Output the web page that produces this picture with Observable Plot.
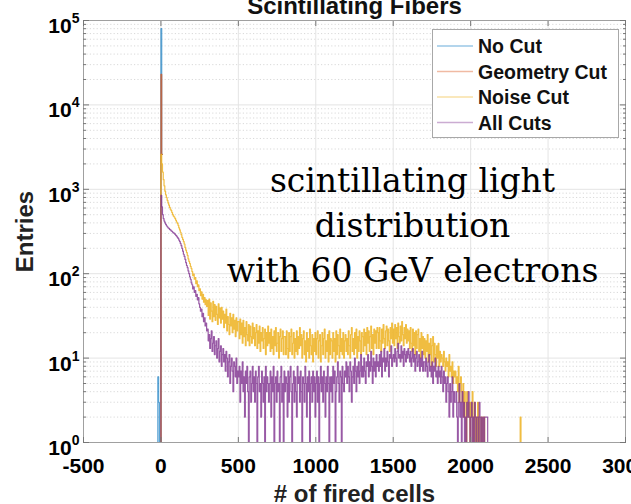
<!DOCTYPE html>
<html><head><meta charset="utf-8">
<script src="https://cdn.jsdelivr.net/npm/d3@7"></script>
<script src="https://cdn.jsdelivr.net/npm/@observablehq/plot@0.6"></script>
<style>body{margin:0;overflow:hidden;background:#fff}</style>
</head><body><div id="chart"></div>
<script>
// ---- data: histogram bins 5 cells wide, value = entries per bin ----
const binWidth = 5;
const noCutStart = -25;
const noCut = [0, 6, 3, 0, 0, 80000, 2600];
const geometryStart = -5;
const geometryCut = [0, 23000, 2600];
const noiseStart = -5;
const noiseCut = [0,
  2600, 2000, 1600, 1300, 1100, 950, 860, 800, 740, 690,
  650, 610, 580, 560, 530, 500, 480, 470, 450, 430,
  410, 395, 375, 350, 330, 310, 290, 270, 255, 240,
  225, 205, 190, 178, 165, 150, 140, 132, 122, 115,
  106, 95, 99, 86, 90, 76, 82, 70, 74, 63,
  66, 55, 61, 50, 57, 46, 52, 43, 49, 41,
  48, 32, 50, 29, 45, 36, 27, 47, 31, 43, 28, 41, 33, 25, 44, 30, 39, 26, 40, 29,
  36, 23, 33, 26, 38, 21, 31, 25, 19, 34, 24, 30, 20, 33, 22, 28, 18, 30, 21, 27,
  27, 17, 29, 19, 26, 15, 28, 18, 23, 14, 27, 19, 16, 25, 14, 24, 18, 15, 26, 17,
  23, 14, 20, 25, 13, 21, 15, 24, 12, 20, 16, 23, 13, 17, 22, 11, 20, 14, 24, 15,
  20, 12, 22, 13, 18, 11, 21, 14, 23, 12, 15, 20, 10, 18, 22, 12, 17, 21, 11, 18,
  18, 11, 21, 13, 10, 20, 12, 18, 22, 11, 15, 20, 10, 17, 12, 21, 11, 18, 13, 23,
  14, 19, 10, 17, 21, 11, 16, 9, 20, 12, 17, 10, 22, 14, 11, 19, 9, 17, 12, 20,
  11, 17, 21, 10, 16, 19, 9, 14, 20, 11, 17, 22, 10, 16, 12, 19, 9, 21, 11, 17,
  16, 10, 20, 12, 17, 9, 21, 11, 19, 14, 10, 22, 12, 17, 11, 20, 10, 16, 19, 12,
  17, 11, 21, 14, 10, 19, 23, 12, 17, 11, 20, 13, 22, 10, 18, 12, 21, 16, 11, 20,
  18, 12, 22, 14, 20, 11, 23, 15, 21, 12, 18, 24, 13, 19, 11, 22, 15, 21, 13, 23,
  20, 13, 23, 16, 12, 22, 15, 25, 17, 13, 21, 24, 14, 22, 16, 12, 23, 17, 26, 15,
  22, 14, 25, 17, 23, 13, 26, 18, 15, 24, 16, 27, 19, 14, 23, 17, 25, 15, 22, 16,
  21, 13, 23, 15, 12, 22, 14, 20, 11, 21, 13, 19, 22, 12, 17, 10, 20, 13, 18, 11,
  17, 10, 16, 12, 19, 9, 15, 11, 17, 8, 14, 18, 9, 15, 11, 8, 14, 10, 15, 8,
  12, 9, 11, 10, 8, 12, 9, 7, 10, 8, 9, 6, 11, 7, 8, 6, 9, 5, 7, 6,
  7, 5, 6, 4, 8, 3, 5, 6, 4, 3, 5, 2, 4, 3, 0, 4, 3, 2, 3, 0,
  3, 2, 4, 0, 2, 3, 0, 2, 1, 3, 0, 2, 0, 1, 2, 0, 0, 2, 0, 0];
const noiseOutlierStart = 2315;
const noiseOutlier = [0, 2, 0];
const allStart = -5;
const allCuts = [0,
  850, 620, 500, 450, 420, 400, 385, 370, 360, 350,
  345, 335, 330, 322, 318, 310, 305, 300, 292, 285,
  278, 270, 262, 250, 240, 228, 215, 200, 185, 170,
  160, 148, 135, 125, 118, 108, 100, 92, 86, 78,
  74, 66, 70, 60, 63, 54, 57, 49, 52, 44,
  40, 36, 38, 31, 34, 27, 30, 24, 26, 21,
  22, 16, 19, 13, 17, 21, 12, 15, 18, 11, 14, 16, 10, 13, 17, 9, 12, 14, 8, 11,
  13, 9, 11, 7, 12, 10, 6, 9, 11, 5, 8, 10, 7, 4, 9, 8, 6, 10, 5, 7,
  6, 8, 3, 7, 5, 9, 4, 6, 2, 7, 5, 8, 4, 0, 6, 7, 3, 5, 8, 4,
  6, 3, 7, 5, 0, 6, 8, 4, 5, 2, 7, 5, 3, 6, 0, 8, 4, 6, 5, 3,
  5, 7, 2, 6, 4, 8, 0, 5, 6, 3, 7, 4, 5, 1, 6, 8, 3, 5, 0, 7,
  4, 6, 5, 2, 7, 3, 6, 8, 4, 0, 5, 7, 3, 6, 4, 2, 8, 5, 6, 3,
  7, 4, 0, 6, 5, 3, 8, 5, 2, 6, 4, 7, 0, 5, 6, 3, 7, 4, 6, 2,
  5, 7, 3, 6, 0, 5, 8, 4, 6, 3, 7, 5, 2, 6, 4, 8, 5, 0, 6, 4,
  6, 3, 8, 5, 7, 0, 4, 6, 9, 5, 3, 7, 6, 0, 8, 5, 4, 7, 6, 9,
  5, 8, 6, 4, 9, 7, 3, 6, 8, 5, 10, 7, 4, 8, 6, 9, 5, 7, 11, 6,
  8, 6, 10, 7, 5, 9, 8, 11, 6, 9, 7, 12, 8, 5, 10, 7, 9, 6, 11, 8,
  9, 7, 11, 8, 12, 6, 10, 9, 13, 7, 10, 8, 12, 9, 6, 11, 10, 14, 8, 10,
  11, 9, 13, 10, 8, 12, 15, 10, 11, 9, 14, 10, 12, 8, 13, 11, 9, 12, 10, 13,
  11, 9, 12, 8, 10, 13, 9, 11, 7, 10, 12, 8, 9, 11, 7, 10, 8, 12, 7, 9,
  9, 7, 10, 8, 6, 9, 11, 7, 8, 6, 9, 5, 8, 7, 10, 6, 7, 5, 8, 6,
  7, 5, 8, 6, 4, 7, 5, 6, 3, 5, 6, 4, 2, 5, 3, 4, 6, 2, 4, 3,
  3, 4, 2, 0, 3, 5, 2, 3, 0, 4, 2, 3, 1, 2, 0, 3, 2, 4, 2, 0,
  2, 3, 0, 2, 1, 3, 2, 0, 2, 2, 0, 3, 2, 0, 2, 1, 2, 0, 2, 2,
  2, 2, 0];
const seriesNames = ["No Cut", "Geometry Cut", "Noise Cut", "All Cuts"];
const seriesColors = ["#0072BD", "#D95319", "#EDB120", "#7E2F8E"];
const xTicks = [-500, 0, 500, 1000, 1500, 2000, 2500, 3000];
const yDecades = [1, 10, 100, 1000, 10000, 100000];
const yMinor = [2,3,4,5,6,7,8,9,20,30,40,50,60,70,80,90,200,300,400,500,600,700,800,900,
  2000,3000,4000,5000,6000,7000,8000,9000,20000,30000,40000,50000,60000,70000,80000,90000];
const titleText = "Scintillating Fibers";
const xLabel = "# of fired cells";
const yLabel = "Entries";
const annotationLines = ["scintillating light", "distribution", "with 60 GeV electrons"];

function steps(start, values, name) {
  const pts = values.map((v, i) => ({x: start + i * binWidth, v, name}));
  pts.push({x: start + values.length * binWidth, v: values[values.length - 1], name});
  return pts;
}
const series = [
  [steps(noCutStart, noCut, seriesNames[0])],
  [steps(geometryStart, geometryCut, seriesNames[1])],
  [steps(noiseStart, noiseCut, seriesNames[2]), steps(noiseOutlierStart, noiseOutlier, seriesNames[2])],
  [steps(allStart, allCuts, seriesNames[3])]
];
const opac = [0.65, 0.75, 0.85, 0.8];
const bold = {fontFamily: "Liberation Sans, Arial, sans-serif", fontWeight: "bold"};

const chart = Plot.plot({
  width: 631, height: 504,
  marginLeft: 83, marginRight: 6, marginTop: 20, marginBottom: 62,
  style: {fontFamily: "Liberation Sans, Arial, sans-serif", background: "#fff", overflow: "visible"},
  x: {domain: [-500, 3000]},
  y: {type: "log", domain: [1, 100000]},
  marks: [
    Plot.ruleY(yMinor, {stroke: "#cfcfcf", strokeDasharray: "1.2,2.2", strokeWidth: 0.8}),
    Plot.ruleX(xTicks, {stroke: "#e4e4e4"}),
    Plot.ruleY(yDecades, {stroke: "#e4e4e4"}),
    ...series.flatMap((segs, i) => segs.map(s => Plot.line(s, {
      x: "x", y: d => d.v > 0 ? d.v : 0.3, curve: "step-after",
      stroke: seriesColors[i], strokeOpacity: opac[i], strokeWidth: 1.2, clip: true
    }))),
    Plot.frame({stroke: "#a0a0a0"}),
    Plot.axisX({ticks: xTicks, anchor: "bottom", tickSize: 0, tickPadding: 16, fontSize: 21, ...bold, tickFormat: d => String(d), label: null}),
    Plot.axisX({ticks: xTicks, anchor: "bottom", tickSize: -5, stroke: "#777", tickFormat: () => "", label: null}),
    Plot.axisX({ticks: xTicks, anchor: "top", tickSize: -5, stroke: "#777", tickFormat: () => "", label: null}),
    Plot.axisY({ticks: yDecades, anchor: "left", tickSize: 0, tickPadding: 4, fontSize: 21, ...bold, tickFormat: d => String(Math.round(Math.log10(d))), label: null}),
    Plot.axisY({ticks: yDecades, anchor: "left", tickSize: -6, stroke: "#777", tickFormat: () => "", label: null}),
    Plot.axisY({ticks: yMinor, anchor: "left", tickSize: -3, stroke: "#777", tickFormat: () => "", label: null}),
    Plot.axisY({ticks: yDecades, anchor: "right", tickSize: -6, stroke: "#777", tickFormat: () => "", label: null}),
    Plot.axisY({ticks: yMinor, anchor: "right", tickSize: -3, stroke: "#777", tickFormat: () => "", label: null}),
    Plot.text([titleText], {frameAnchor: "top", dy: -7, lineAnchor: "bottom", textAnchor: "middle", fontSize: 24, ...bold, fill: "#111"}),
    Plot.text([xLabel], {frameAnchor: "bottom", dy: 59, lineAnchor: "bottom", textAnchor: "middle", fontSize: 24, ...bold, fill: "#222"}),
    Plot.text([yLabel], {frameAnchor: "left", dx: -51, rotate: -90, lineAnchor: "bottom", textAnchor: "middle", fontSize: 24, ...bold, fill: "#222"}),
    Plot.text([annotationLines.join("\n")], {frameAnchor: "top", dx: 58, dy: 261, lineAnchor: "bottom", textAnchor: "middle", lineHeight: 1.36,
      fontFamily: "DejaVu Serif, serif", fontSize: 33, fill: "#000"})
  ]
});
document.getElementById("chart").appendChild(chart);

// superscript exponents on y tick labels (10^n)
const svg = d3.select(chart);
svg.selectAll('[aria-label="y-axis tick label"] text').each(function () {
  const t = d3.select(this);
  const e = t.text();
  if (!e) return;
  t.text(null).attr("dy", null).attr("y", 12.5);
  t.append("tspan").text("10");
  t.append("tspan").attr("dy", -10).attr("font-size", 14).text(e);
});

// legend
const lg = svg.append("g").attr("font-family", "Liberation Sans, Arial, sans-serif").attr("font-weight", "bold")
  .attr("font-size", 19.5).attr("text-anchor", "start");
lg.append("rect").attr("x", 432.5).attr("y", 29.5).attr("width", 186).attr("height", 108).attr("fill", "#fff").attr("stroke", "#a8a8a8");
seriesNames.forEach((n, i) => {
  const y = 46 + i * 25.5;
  lg.append("line").attr("x1", 437).attr("x2", 473).attr("y1", y).attr("y2", y)
    .attr("stroke", seriesColors[i]).attr("stroke-opacity", 0.4).attr("stroke-width", 1.5);
  lg.append("text").attr("x", 478).attr("y", y + 7).attr("fill", "#111").text(n);
});
</script></body></html>
